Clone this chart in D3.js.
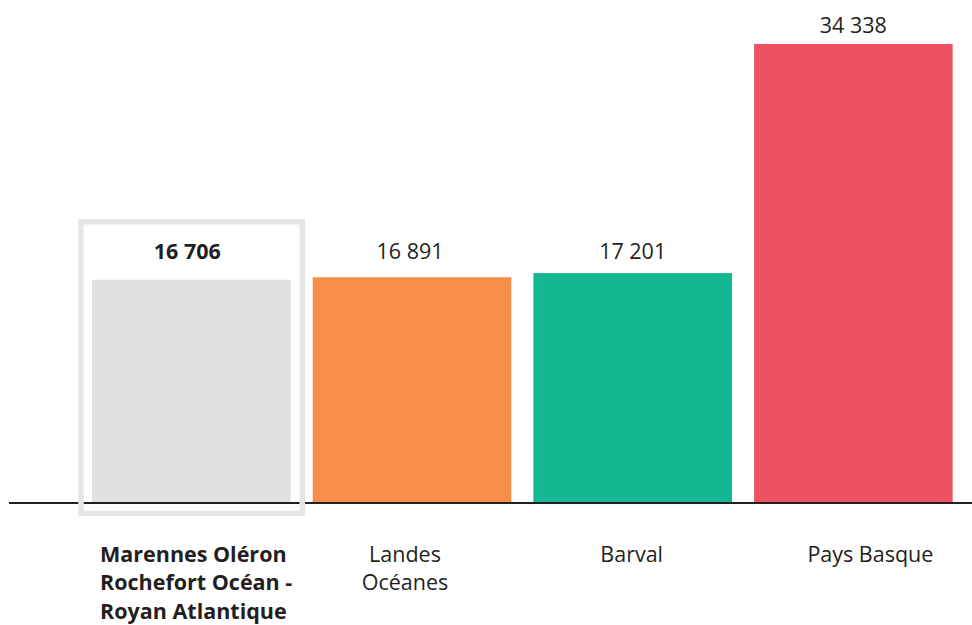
<!DOCTYPE html>
<html>
<head>
<meta charset="utf-8">
<script src="https://cdn.jsdelivr.net/npm/d3@7"></script>
<style>
  html, body { margin: 0; padding: 0; background: #fff; }
  svg { display: block; }
  text { font-family: "Open Sans", sans-serif; fill: #231f20; }
</style>
</head>
<body>
<svg id="chart" width="972" height="625"></svg>
<script>
// ---- data ----
const categories = ["Marennes Oléron Rochefort Océan - Royan Atlantique", "Landes Océanes", "Barval", "Pays Basque"];
const categoryLines = [
  ["Marennes Oléron", "Rochefort Océan -", "Royan Atlantique"],
  ["Landes", "Océanes"],
  ["Barval"],
  ["Pays Basque"]
];
const values = [16706, 16891, 17201, 34338];
const valueLabels = ["16 706", "16 891", "17 201", "34 338"];
const colors = ["#e0e1e3", "#f68e47", "#13b893", "#ef5362"];
const highlighted = "Marennes Oléron Rochefort Océan - Royan Atlantique";

// ---- layout ----
const W = 972, H = 625;
const baseY = 503;
const svg = d3.select("#chart");

const x = d3.scaleBand()
  .domain(categories)
  .range([81, 963.7])
  .paddingInner(0.1)
  .paddingOuter(0.05);

const y = d3.scaleLinear()
  .domain([0, 34338])
  .range([baseY, 44]);

// baseline
svg.append("line")
  .attr("x1", 9).attr("x2", W)
  .attr("y1", baseY).attr("y2", baseY)
  .attr("stroke", "#231f20").attr("stroke-width", 2);

// highlight frame
const hx = x(highlighted);
svg.append("rect")
  .attr("x", hx - 11).attr("y", 221.75)
  .attr("width", x.bandwidth() + 22.6).attr("height", 291.5)
  .attr("fill", "none")
  .attr("stroke", "#e6e6e6")
  .attr("stroke-width", 5.5);

const data = categories.map((c, i) => ({ c, v: values[i], label: valueLabels[i], color: colors[i], lines: categoryLines[i] }));

// bars
svg.selectAll("rect.bar").data(data).enter().append("rect")
  .attr("class", "bar")
  .attr("x", d => x(d.c))
  .attr("y", d => y(d.v))
  .attr("width", x.bandwidth())
  .attr("height", d => baseY - 1 - y(d.v))
  .attr("fill", d => d.color);

// value labels
const valDx = [-4, -2, 0, 0];
svg.selectAll("text.val").data(data).enter().append("text")
  .attr("class", "val")
  .attr("x", (d, i) => x(d.c) + x.bandwidth() / 2 + valDx[i])
  .attr("y", d => Math.min(y(d.v) - 11, 259))
  .attr("text-anchor", "middle")
  .attr("font-size", 21.5)
  .attr("font-weight", d => d.c === highlighted ? 700 : 400)
  .text(d => d.label);

// category labels
const labelDx = [8, -7, -1, 17];
const cat = svg.selectAll("text.cat").data(data).enter().append("text")
  .attr("class", "cat")
  .attr("font-size", 21.5)
  .attr("font-weight", d => d.c === highlighted ? 700 : 400)
  .attr("text-anchor", d => d.c === highlighted ? "start" : "middle")
  .attr("transform", (d, i) => {
    const px = d.c === highlighted ? x(d.c) + labelDx[i] : x(d.c) + x.bandwidth() / 2 + labelDx[i];
    return `translate(${px},561.5)`;
  });
cat.selectAll("tspan").data(d => d.lines).enter().append("tspan")
  .attr("x", 0)
  .attr("dy", (d, i) => i === 0 ? 0 : 28.8)
  .text(d => d);
</script>
</body>
</html>
